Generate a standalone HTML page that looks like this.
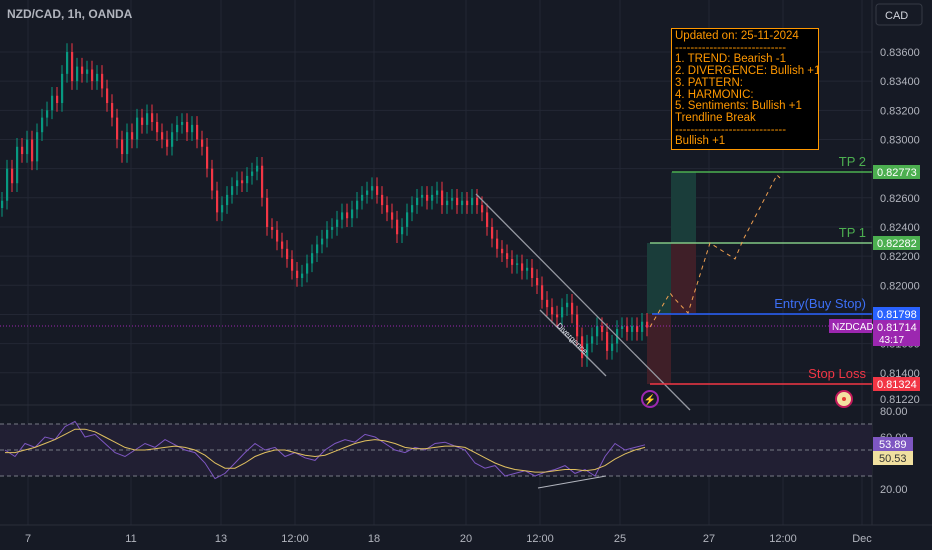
<!DOCTYPE html>
<html><head><meta charset="utf-8"><style>
body{margin:0;background:#161a25;width:932px;height:550px;overflow:hidden;font-family:"Liberation Sans",sans-serif}
svg{position:absolute;left:0;top:0}
.box{position:absolute;left:671px;top:28px;width:148px;height:122px;background:#000;border:1px solid #ff9800;color:#ff9800;font-size:11.5px;line-height:11.7px;padding:2px 3px;box-sizing:border-box;white-space:pre;overflow:hidden}
</style></head><body>
<svg id="c" width="932" height="550"></svg>
<div class="box">Updated on: 25-11-2024
-----------------------------
1. TREND: Bearish -1
2. DIVERGENCE: Bullish +1
3. PATTERN:
4. HARMONIC:
5. Sentiments: Bullish +1
Trendline Break
-----------------------------
Bullish +1</div>
<script>
const closes=[8258,8280,8270,8295,8290,8300,8285,8305,8315,8320,8330,8325,8345,8360,8340,8350,8345,8348,8340,8345,8335,8325,8315,8300,8290,8305,8300,8315,8310,8318,8312,8305,8300,8295,8305,8310,8312,8305,8310,8300,8295,8280,8265,8250,8255,8262,8268,8272,8270,8275,8278,8282,8260,8240,8238,8230,8225,8218,8210,8205,8208,8215,8222,8228,8232,8238,8240,8245,8250,8246,8252,8258,8262,8265,8268,8262,8255,8250,8245,8235,8240,8250,8255,8260,8262,8258,8262,8265,8255,8258,8260,8255,8258,8255,8260,8255,8250,8240,8232,8225,8222,8218,8214,8215,8210,8212,8205,8200,8190,8185,8180,8178,8185,8188,8180,8165,8150,8160,8165,8172,8168,8155,8160,8170,8172,8168,8172,8168,8175,8171];
const rsi=[50,45,55,52,60,58,68,72,60,62,55,48,45,50,55,52,58,54,50,48,40,28,32,40,48,55,50,52,45,48,44,42,50,55,58,56,62,60,55,50,48,52,50,55,56,53,50,40,36,38,30,32,34,30,33,35,38,32,35,30,45,55,50,52,54];
const rsiMa=[48,48,50,52,55,58,62,66,66,64,60,56,52,50,50,51,52,53,52,50,46,40,36,36,40,45,48,50,50,48,46,45,46,49,52,55,57,58,57,55,52,51,51,52,53,53,52,48,44,40,37,35,34,33,33,34,35,35,34,35,38,43,47,50,52];
const priceTicks=["0.83600","0.83400","0.83200","0.83000","0.82800","0.82600","0.82400","0.82200","0.82000",null,"0.81600","0.81400"];
const timeLabels=[["7",28],["11",131],["13",221],["12:00",295],["18",374],["20",466],["12:00",540],["25",620],["27",709],["12:00",783],["Dec",862]];
const py=p=>52+(0.836-p)*14580;
const ry=v=>489-(v-20)*1.3;
const s=document.getElementById('c');const NS='http://www.w3.org/2000/svg';
function mk(t,a,txt){const e=document.createElementNS(NS,t);for(const k in a)e.setAttribute(k,a[k]);if(txt!=null)e.textContent=txt;s.appendChild(e);return e;}
timeLabels.forEach(t=>{const e=mk('line',{x1:t[1],x2:t[1],y1:0,y2:525,stroke:'#232734'});});
priceTicks.forEach((t,i)=>{const y=py(0.836-0.002*i);const e=mk('line',{x1:0,x2:872,y1:y,y2:y,stroke:'#232734'});
 if(t){const l=mk('text',{x:880,y:y+4,fill:'#b2b5be','font-size':11},t);}});
{const l=mk('text',{x:880,y:403,fill:'#b2b5be','font-size':11},'0.81220');}
mk('line',{x1:0,x2:932,y1:405,y2:405,stroke:'#2a2e39'});
mk('line',{x1:872,x2:872,y1:0,y2:525,stroke:'#2a2e39'});
mk('line',{x1:0,x2:932,y1:525,y2:525,stroke:'#2a2e39'});
timeLabels.forEach(t=>{const e=mk('text',{x:t[1],y:542,fill:'#b2b5be','font-size':11,'text-anchor':'middle'},t[0]);});
[[647,671,243,314,'#1a3d3a'],[647,671,314,384,'#3f1f28'],[671,696,172,243,'#1a3d3a'],[671,696,243,313,'#3f1f28']].forEach(r=>{const e=mk('rect',{x:r[0],y:r[2],width:r[1]-r[0],height:r[3]-r[2],fill:r[4]});});
closes.forEach((c,i)=>{const o=i?closes[i-1]:c-5;const x=2+5*i;const up=c>=o;const col=up?'#089981':'#f23645';
 const hi=Math.max(o,c)+6,lo=Math.min(o,c)-6;
 const w=mk('line',{x1:x,x2:x,y1:py(hi/1e4),y2:py(lo/1e4),stroke:col});
 const y1=py(Math.max(o,c)/1e4),y2=py(Math.min(o,c)/1e4);
 const b=mk('rect',{x:x-1,y:y1,width:2.2,height:Math.max(1,y2-y1),fill:col});});
mk('line',{x1:0,x2:872,y1:326,y2:326,stroke:'#9c27b0','stroke-dasharray':'1 2'});
mk('line',{x1:476,y1:194,x2:690,y2:410,stroke:'#9598a1','stroke-width':1.3});
mk('line',{x1:540,y1:310,x2:606,y2:376,stroke:'#9598a1','stroke-width':1.3});
{const t=mk('text',{x:556,y:326,fill:'#e0e3eb','font-size':8,transform:'rotate(45 556 326)'},'Divergence');}
const lv=[[172,672,'#4caf50','TP 2','0.82773'],[243,650,'#81c784','TP 1','0.82282'],[314,652,'#2962ff','Entry(Buy Stop)','0.81798'],[384,650,'#f23645','Stop Loss','0.81324']];
lv.forEach(l=>{const c=l[2];mk('line',{x1:l[1],x2:872,y1:l[0],y2:l[0],stroke:c,'stroke-width':1.5});
 const t=mk('text',{x:866,y:l[0]-6,fill:c==='#2962ff'?'#3d6ff5':(c==='#81c784'?'#4caf50':c),'font-size':13,'text-anchor':'end'},l[3]);
 mk('rect',{x:873,y:l[0]-7,width:47,height:14,fill:c==='#81c784'?'#4caf50':c});
 mk('text',{x:877,y:l[0]+4,fill:'#fff','font-size':11},l[4]);});
mk('rect',{x:829,y:319,width:43,height:14,fill:'#9c27b0'});mk('text',{x:832,y:330,fill:'#fff','font-size':10},'NZDCAD');
mk('rect',{x:873,y:320,width:47,height:26,fill:'#9c27b0'});mk('text',{x:877,y:331,fill:'#fff','font-size':11},'0.81714');mk('text',{x:879,y:343,fill:'#fff','font-size':10},'43:17');
mk('polyline',{points:'650,327 670,293 673,297 688,313 710,243 735,259 743,240 777,175 780,178',fill:'none',stroke:'#f0a050','stroke-width':1,'stroke-dasharray':'4 4'});
mk('circle',{cx:650,cy:399,r:8,fill:'none',stroke:'#9c27b0','stroke-width':2});mk('text',{x:650,y:403,fill:'#9c27b0','font-size':10,'text-anchor':'middle'},'⚡');
mk('circle',{cx:844,cy:399,r:8,fill:'#f4e0a0',stroke:'#c2185b','stroke-width':2});mk('circle',{cx:844,cy:399,r:2,fill:'#e53935'});
mk('rect',{x:0,y:ry(70),width:872,height:ry(30)-ry(70),fill:'#211f33'});
[70,50,30].forEach(v=>mk('line',{x1:0,x2:872,y1:ry(v),y2:ry(v),stroke:'#787b86','stroke-dasharray':'4 3'}));
[[80,'80.00'],[60,'60.00'],[20,'20.00']].forEach(t=>mk('text',{x:880,y:ry(t[0])+4,fill:'#b2b5be','font-size':11},t[1]));
{const e=mk('polyline',{points:rsi.map((v,i)=>(5+10*i)+','+ry(v)).join(' '),fill:'none',stroke:'#7e57c2','stroke-width':1});}
{const e=mk('polyline',{points:rsiMa.map((v,i)=>(5+10*i)+','+ry(v)).join(' '),fill:'none',stroke:'#e0c060','stroke-width':1});}
mk('line',{x1:538,y1:488,x2:606,y2:476,stroke:'#b2b5be'});
mk('rect',{x:873,y:437,width:40,height:14,fill:'#7e57c2'});mk('text',{x:879,y:448,fill:'#fff','font-size':11},'53.89');
mk('rect',{x:873,y:451,width:40,height:14,fill:'#f0e0a0'});mk('text',{x:879,y:462,fill:'#333','font-size':11},'50.53');
{const t=mk('text',{x:7,y:18,fill:'#b2b5be','font-size':12,'font-weight':'bold'},'NZD/CAD, 1h, OANDA');}
{const r=mk('rect',{x:876,y:4,width:46,height:21,rx:3,fill:'none',stroke:'#363a45'});}
mk('text',{x:885,y:19,fill:'#d1d4dc','font-size':11},'CAD');
</script>
</body></html>
